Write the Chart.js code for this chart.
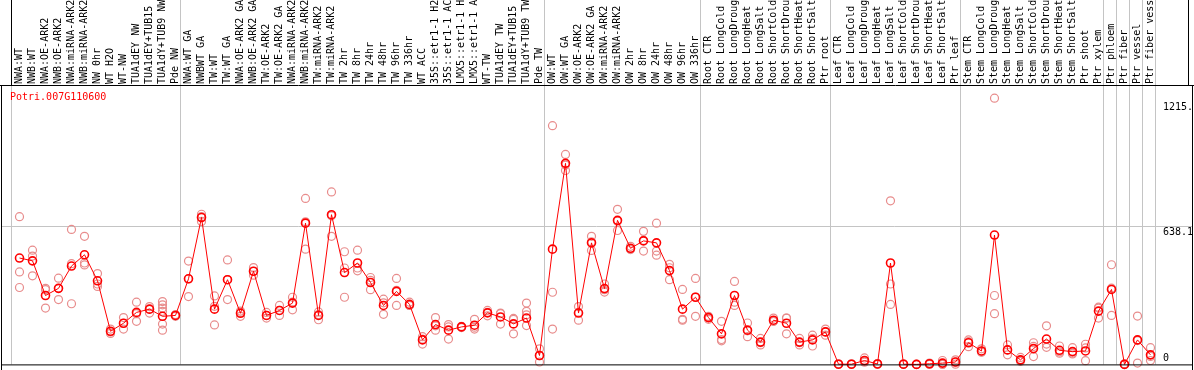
<!DOCTYPE html>
<html>
<head>
<meta charset="UTF-8">
<title>Potri.007G110600</title>
<script src="https://cdn.jsdelivr.net/npm/chart.js@4.4.1/dist/chart.umd.min.js"></script>
<style>
  body { margin: 0; background: #fff; }
  #wrap { position: relative; width: 1194px; height: 370px; }
</style>
</head>
<body>
<div id="wrap"><canvas id="expr"></canvas></div>
<script>
var geneName = 'Potri.007G110600';

var samples = [
  'NWA:WT', 'NWB:WT', 'NWA:OE-ARK2', 'NWB:OE-ARK2', 'NWA:miRNA-ARK2', 'NWB:miRNA-ARK2',
  'NW 0hr', 'WT H2O', 'WT-NW', 'TUA1dEY NW', 'TUA1dEY+TUB15 NW', 'TUA1dY+TUB9 NW', 'Pde NW',
  'NWA:WT GA', 'NWBWT GA', 'TW:WT', 'TW:WT GA', 'NWA:OE-ARK2 GA', 'NWB:OE-ARK2 GA',
  'TW:OE-ARK2', 'TW:OE-ARK2 GA', 'NWA:miRNA-ARK2 GA', 'NWB:miRNA-ARK2 GA', 'TW:miRNA-ARK2',
  'TW:miRNA-ARK2 GA', 'TW 2hr', 'TW 8hr', 'TW 24hr', 'TW 48hr', 'TW 96hr', 'TW 336hr',
  'WT ACC', '35S::etr1-1 H2O', '35S::etr1-1 ACC', 'LMX5::etr1-1 H2O', 'LMX5::etr1-1 ACC',
  'WT-TW', 'TUA1dEY TW', 'TUA1dEY+TUB15 TW', 'TUA1dY+TUB9 TW', 'Pde TW',
  'OW:WT', 'OW:WT GA', 'OW:OE-ARK2', 'OW:OE-ARK2 GA', 'OW:miRNA-ARK2', 'OW:miRNA-ARK2 GA',
  'OW 2hr', 'OW 8hr', 'OW 24hr', 'OW 48hr', 'OW 96hr', 'OW 336hr',
  'Root CTR', 'Root LongCold', 'Root LongDrought', 'Root LongHeat', 'Root LongSalt',
  'Root ShortCold', 'Root ShortDrought', 'Root ShortHeat', 'Root ShortSalt', 'Ptr root',
  'Leaf CTR', 'Leaf LongCold', 'Leaf LongDrought', 'Leaf LongHeat', 'Leaf LongSalt',
  'Leaf ShortCold', 'Leaf ShortDrought', 'Leaf ShortHeat', 'Leaf ShortSalt', 'Ptr leaf',
  'Stem CTR', 'Stem LongCold', 'Stem LongDrought', 'Stem LongHeat', 'Stem LongSalt',
  'Stem ShortCold', 'Stem ShortDrought', 'Stem ShortHeat', 'Stem ShortSalt', 'Ptr shoot', 'Ptr xylem',
  'Ptr phloem', 'Ptr fiber', 'Ptr vessel', 'Ptr fiber vessel'
];

// index of the first sample of each group (last entry = end)
var groupStarts = [0, 13, 41, 53, 63, 73, 84, 85, 86, 87, 88];

var means = [
  491, 478, 318, 351, 454, 506, 386, 153, 190, 240, 255, 222, 226,
  395, 678, 255, 391, 236, 430, 226, 249, 283, 652, 226, 691, 424, 468, 378, 272, 337, 277,
  113, 184, 158, 173, 181, 238, 219, 187, 214, 41,
  532, 928, 237, 561, 350, 665, 536, 570, 561, 433, 255, 310,
  216, 141, 318, 158, 103, 204, 190, 103, 113, 150,
  1, 1, 18, 2, 468, 1, 0, 3, 6, 11,
  100, 62, 597, 67, 21, 73, 117, 65, 59, 62, 246,
  346, 0, 113, 44
];

var replicates = [
  [682, 427, 355], [527, 500, 409], [351, 345, 260], [398, 351, 299], [623, 465, 280],
  [591, 468, 459], [419, 371, 360], [163, 150, 143], [216, 190, 163], [287, 234, 199],
  [267, 254, 237], [290, 275, 260, 245, 186, 158], [230, 226, 222],
  [477, 395, 313], [693, 682, 660], [316, 268, 182], [482, 391, 299], [246, 240, 222],
  [447, 430, 412], [240, 226, 214], [272, 249, 226], [310, 287, 252], [766, 658, 532],
  [242, 230, 206], [796, 686, 591], [520, 445, 310], [527, 445, 432], [401, 388, 345],
  [301, 284, 231], [397, 342, 272], [287, 272, 272], [128, 117, 94], [216, 178, 158],
  [184, 173, 117], [176, 173, 170], [208, 172, 163], [249, 240, 224], [237, 234, 186],
  [208, 212, 141], [283, 245, 229, 179], [72, 40, 11],
  [1102, 333, 163], [969, 920, 895], [267, 240, 204], [591, 566, 526], [371, 345, 334],
  [716, 661, 618], [545, 533, 530], [614, 573, 523], [652, 523, 504], [462, 446, 391],
  [346, 208, 204], [397, 311, 222],
  [222, 216, 208], [199, 115, 109], [383, 287, 272], [191, 155, 128], [120, 100, 90],
  [214, 199, 199], [214, 214, 141], [120, 100, 90], [135, 120, 85], [163, 150, 135],
  [3, 0, 0], [3, 0, 0], [30, 14, 10], [4, 2, 0], [755, 371, 277],
  [2, 1, 0], [0, 0, 0], [6, 3, 0], [18, 1, 0], [21, 11, 1],
  [113, 105, 82], [72, 58, 56], [1229, 318, 234], [90, 67, 44], [32, 18, 14],
  [100, 83, 36], [178, 94, 79], [85, 58, 52], [77, 52, 48], [93, 76, 17], [264, 260, 214],
  [460, 352, 226], [3, 0, 0], [223, 110, 6], [77, 37, 18]
];

var yTicks = [0, 638.1, 1215];
var yTickLabels = ['0', '638.1', '1215.'];
var yGridValue = 638.1;
var yMax = 1285;

Chart.defaults.font.family = '"DejaVu Sans Mono", monospace';
Chart.defaults.font.size = 10;
Chart.defaults.color = '#000';

// one dataset per replicate slot, null where a sample has fewer replicates
var maxReps = 0;
replicates.forEach(function (r) { if (r.length > maxReps) maxReps = r.length; });
var repSets = [];
for (var k = 0; k < maxReps; k++) {
  repSets.push({
    data: replicates.map(function (r) { return r.length > k ? r[k] : null; }),
    showLine: false,
    pointRadius: 4,
    pointBorderWidth: 1.2,
    pointBorderColor: '#e88c8c',
    pointBackgroundColor: 'rgba(0,0,0,0)',
    order: 1,
    clip: false
  });
}

var framePlugin = {
  id: 'frame',
  beforeDatasetsDraw: function (chart) {
    var ctx = chart.ctx, x = chart.scales.x, y = chart.scales.y;
    var step = x.getPixelForTick(1) - x.getPixelForTick(0);
    var x0 = x.getPixelForTick(0);
    ctx.save();
    ctx.strokeStyle = '#c4c4c4';
    ctx.lineWidth = 1;
    ctx.beginPath();
    groupStarts.forEach(function (i) {
      var px = Math.round(x0 + step * (i - 0.65)) + 0.5;
      ctx.moveTo(px, 0);
      ctx.lineTo(px, chart.chartArea.bottom);
    });
    var gy = Math.round(y.getPixelForValue(yGridValue)) + 0.5;
    ctx.moveTo(1, gy);
    ctx.lineTo(1192, gy);
    ctx.stroke();
    ctx.restore();
  },
  afterDraw: function (chart) {
    var ctx = chart.ctx, x = chart.scales.x, y = chart.scales.y, a = chart.chartArea;
    var step = x.getPixelForTick(1) - x.getPixelForTick(0);
    var left = Math.round(x.getPixelForTick(0) - step * 0.65) + 0.5;
    ctx.save();
    ctx.strokeStyle = '#000';
    ctx.lineWidth = 1;
    ctx.beginPath();
    // header box
    ctx.moveTo(left, 0); ctx.lineTo(left, 85);
    ctx.moveTo(1188.5, 0); ctx.lineTo(1188.5, 85);
    ctx.moveTo(0, 85.5); ctx.lineTo(1194, 85.5);
    // plot box
    ctx.moveTo(1.5, 85); ctx.lineTo(1.5, 370);
    ctx.moveTo(1192.5, 85); ctx.lineTo(1192.5, 370);
    ctx.moveTo(1, a.bottom + 0.5); ctx.lineTo(1193, a.bottom + 0.5);
    ctx.stroke();

    ctx.font = '10px "DejaVu Sans Mono", monospace';
    ctx.textAlign = 'left';
    ctx.textBaseline = 'middle';
    ctx.fillStyle = '#ff0000';
    ctx.fillText(geneName, 10, 97);

    ctx.fillStyle = '#000';
    ctx.textBaseline = 'top';
    yTicks.forEach(function (v, i) {
      var py = Math.min(y.getPixelForValue(v) + 1, a.bottom - 11);
      ctx.fillText(yTickLabels[i], 1163, py);
    });
    ctx.restore();
  }
};

new Chart(document.getElementById('expr'), {
  type: 'line',
  data: {
    labels: samples,
    datasets: [{
      data: means,
      borderColor: '#ff0000',
      borderWidth: 1,
      pointRadius: 4,
      pointBorderWidth: 1.6,
      pointBorderColor: '#ff0000',
      pointBackgroundColor: 'rgba(0,0,0,0)',
      tension: 0,
      order: 0,
      clip: false
    }].concat(repSets)
  },
  options: {
    responsive: true,
    maintainAspectRatio: false,
    animation: false,
    devicePixelRatio: 1,
    events: [],
    layout: { padding: { left: 13, top: 0, right: 0, bottom: 2 } },
    plugins: { legend: { display: false }, tooltip: { enabled: false } },
    scales: {
      x: {
        type: 'category',
        position: 'top',
        offset: true,
        grid: { display: false, drawTicks: false },
        border: { display: false },
        ticks: {
          autoSkip: false,
          maxRotation: 90,
          minRotation: 90,
          padding: 2,
          labelOffset: 12,
          color: '#000',
          font: { size: 10, family: '"DejaVu Sans Mono", monospace' }
        },
        afterFit: function (s) { s.height = 86; }
      },
      y: {
        position: 'right',
        min: 0,
        max: yMax,
        grid: { display: false, drawTicks: false },
        border: { display: false },
        ticks: { display: false },
        afterFit: function (s) { s.width = 37; }
      }
    }
  },
  plugins: [framePlugin]
});
</script>
</body>
</html>
